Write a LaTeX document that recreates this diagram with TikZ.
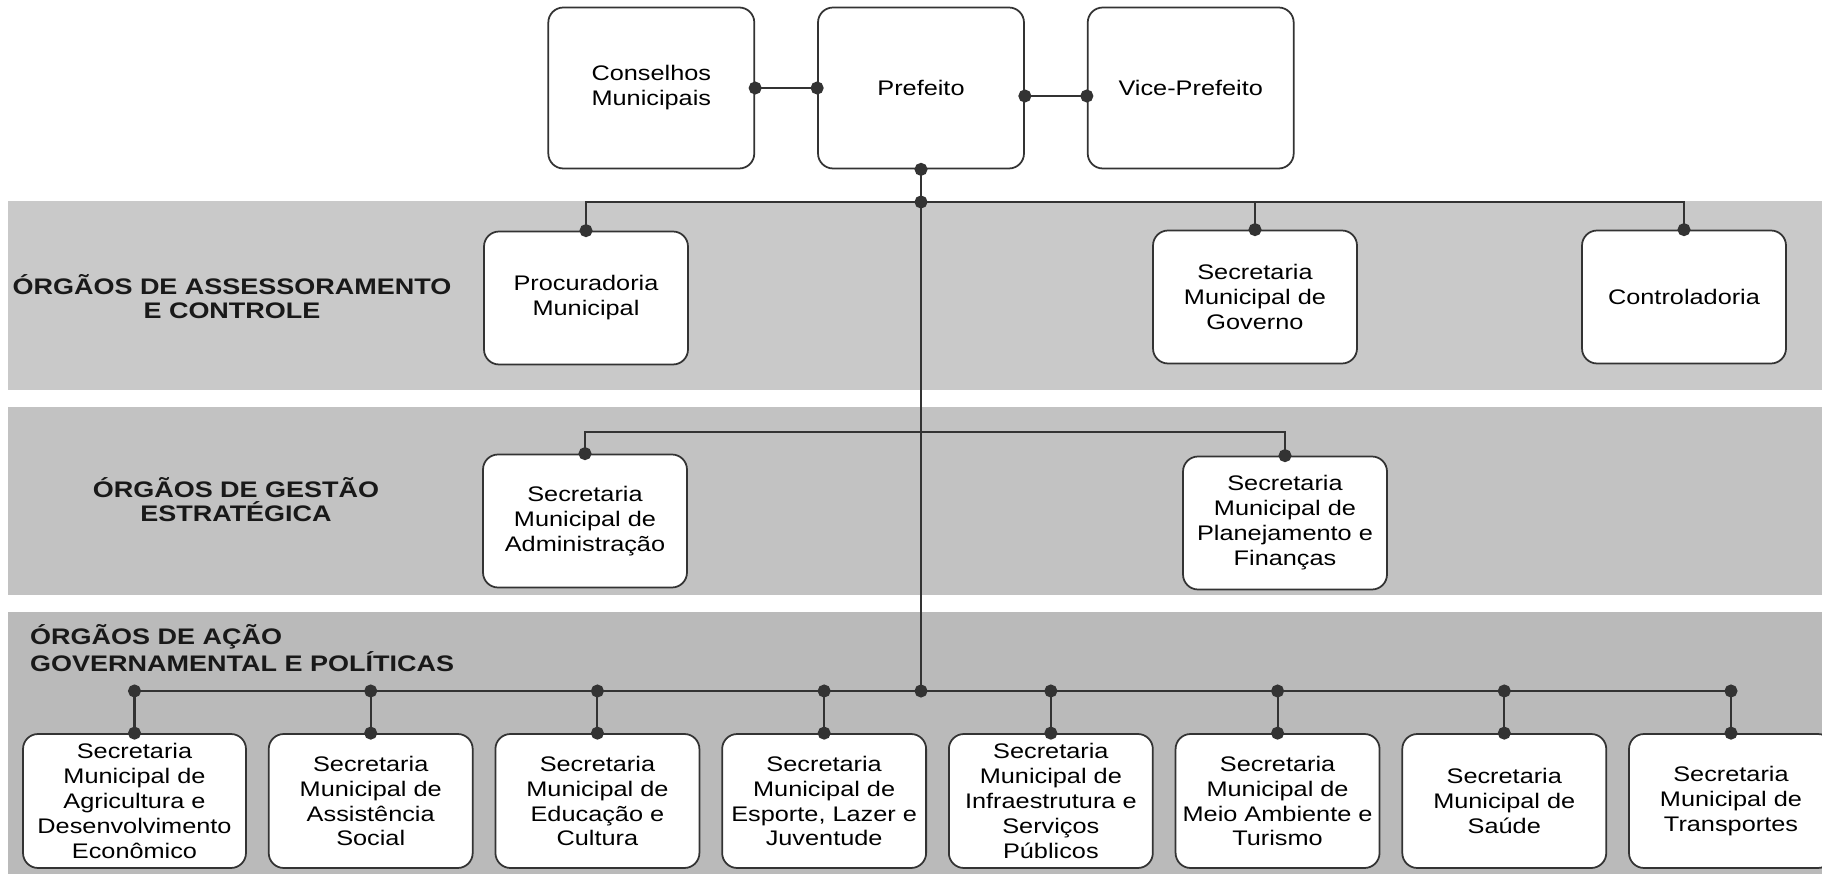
\documentclass[tikz,border=0pt]{standalone}
\usepackage{fontspec}
\setmainfont{Liberation Sans}[FakeStretch=1.2]
\usepackage{tikz}
\usetikzlibrary{positioning, arrows.meta}
\usepackage{xcolor}
\definecolor{bandA}{HTML}{C9C9C9}
\definecolor{bandB}{HTML}{C2C2C2}
\definecolor{bandC}{HTML}{BABABA}
\definecolor{wire}{HTML}{333333}

\begin{document}
\begin{tikzpicture}[
    x=0.02cm, y=-0.02cm,
    node distance=1.24cm,
    block/.style={rectangle, draw=wire, line width=1pt, fill=white, rounded corners=0.3cm, align=center, inner sep=2pt, text=black, font=\fontsize{12}{14.2}\selectfont, minimum width=4.08cm, minimum height=2.66cm},
    topblock/.style={block, minimum width=4.12cm, minimum height=3.22cm},
    secblock/.style={block, minimum height=2.68cm},
    group/.style={font=\fontsize{12.8}{13.6}\selectfont\bfseries, text=black!90, align=center},
    line/.style={draw=wire, line width=1.2pt},
    link/.style={line, {Circle[length=0.26cm]}-{Circle[length=0.26cm]}, shorten <=-0.13cm, shorten >=-0.13cm},
    drop/.style={line, -{Circle[length=0.26cm]}, shorten >=-0.13cm}
]
    \useasboundingbox (0,0) rectangle (1822,874);
    \fill [bandA] (8,201) rectangle (1822,390);
    \fill [bandB] (8,407) rectangle (1822,595);
    \fill [bandC] (8,612) rectangle (1822,874);

    \node [group] (assessoramento) at (232,297) {ÓRGÃOS DE ASSESSORAMENTO\\E CONTROLE};
    \node [group] (gestao) at (236,500) {ÓRGÃOS DE GESTÃO\\ESTRATÉGICA};
    \node [group, align=left, anchor=west] (acao) at (24,648) {ÓRGÃOS DE AÇÃO\\GOVERNAMENTAL E POLÍTICAS};

    \node [topblock] (prefeito) at (921,88) {Prefeito};
    \node [topblock, left=of prefeito] (conselhos) {Conselhos\\Municipais};
    \node [topblock, right=of prefeito] (vice) {Vice-Prefeito};

    \node [block] (procuradoria) at (586,298) {Procuradoria\\Municipal};
    \node [block] (governo) at (1255,297) {Secretaria\\Municipal de\\Governo};
    \node [block] (controladoria) at (1684,297) {Controladoria};

    \node [block] (administracao) at (585,521) {Secretaria\\Municipal de\\Administração};
    \node [block] (planejamento) at (1285,523) {Secretaria\\Municipal de\\Planejamento e\\Finanças};

    \node [secblock, minimum width=4.46cm] (agricultura) at (134.5,801) {Secretaria\\Municipal de\\Agricultura e\\Desenvolvimento\\Econômico};
    \node [secblock, right=0.42cm of agricultura] (assistencia) {Secretaria\\Municipal de\\Assistência\\Social};
    \node [secblock, right=0.42cm of assistencia] (educacao) {Secretaria\\Municipal de\\Educação e\\Cultura};
    \node [secblock, right=0.42cm of educacao] (esporte) {Secretaria\\Municipal de\\Esporte, Lazer e\\Juventude};
    \node [secblock, right=0.42cm of esporte] (infraestrutura) {Secretaria\\Municipal de\\Infraestrutura e\\Serviços\\Públicos};
    \node [secblock, right=0.42cm of infraestrutura] (ambiente) {Secretaria\\Municipal de\\Meio Ambiente e\\Turismo};
    \node [secblock, right=0.42cm of ambiente] (saude) {Secretaria\\Municipal de\\Saúde};
    \node [secblock, right=0.42cm of saude] (transportes) {Secretaria\\Municipal de\\Transportes};

    \coordinate (hubA) at (prefeito.south |- 0,202);
    \coordinate (hubB) at (prefeito.south |- 0,432);
    \coordinate (hubC) at (prefeito.south |- 0,691);

    \path [link] (conselhos.east) -- (prefeito.west);
    \path [link] ([yshift=-0.16cm]prefeito.east) -- ([yshift=-0.16cm]vice.west);
    \path [link] (prefeito.south) -- (hubA);
    \path [drop] (hubA) -- (hubC);

    \path [drop] (hubA) -| (procuradoria.north);
    \path [drop] (hubA) -| (governo.north);
    \path [drop] (hubA) -| (controladoria.north);

    \path [drop] (hubB) -| (administracao.north);
    \path [drop] (hubB) -| (planejamento.north);

    \path [line] (agricultura.north |- hubC) -- (transportes.north |- hubC);
    \path [link] (agricultura.north |- hubC) -- (agricultura.north);
    \path [link] (assistencia.north |- hubC) -- (assistencia.north);
    \path [link] (educacao.north |- hubC) -- (educacao.north);
    \path [link] (esporte.north |- hubC) -- (esporte.north);
    \path [link] (infraestrutura.north |- hubC) -- (infraestrutura.north);
    \path [link] (ambiente.north |- hubC) -- (ambiente.north);
    \path [link] (saude.north |- hubC) -- (saude.north);
    \path [link] (transportes.north |- hubC) -- (transportes.north);
\end{tikzpicture}
\end{document}
